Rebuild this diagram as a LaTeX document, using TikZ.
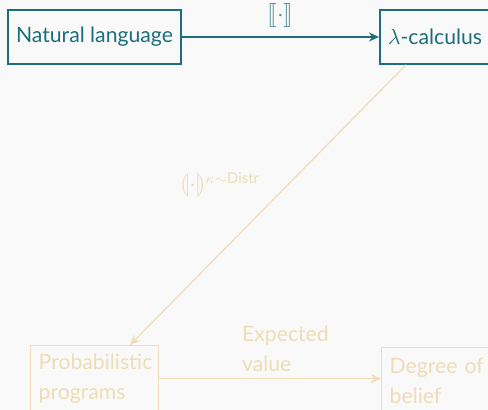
\documentclass[tikz,border=0pt]{standalone}
\usepackage{amsmath,stmaryrd}
\usepackage{fontspec}
\setmainfont{Lato}
\usepackage{tikz}
\usetikzlibrary{arrows.meta}

\definecolor{deepteal}{HTML}{1D6E7D}
\definecolor{paleocre}{HTML}{EEDDB5}
\definecolor{slide}{HTML}{F9F9F9}

\begin{document}
\begin{tikzpicture}[x=0.5pt,y=-0.5pt,
    font=\fontsize{10.6}{15}\selectfont,
    stage/.style={draw,line width=0.8pt,rectangle,inner xsep=4pt,inner ysep=3pt},
    done/.style={stage,deepteal,text=deepteal},
    todo/.style={stage,paleocre,line width=0.7pt,text=paleocre},
    go/.style={-{Stealth[length=5pt,width=4.5pt]},line width=0.9pt}]
  % Slide background and frame
  \fill[slide] (0,0) rectangle (488,410);
  \clip (0,0) rectangle (488,410);
  % Top row: syntax to logical form
  \node[done,minimum width=86.5pt,minimum height=27pt] (nl) at (94.5,37) {Natural language};
  \node[done,anchor=west,text width=54pt,align=left,minimum height=27pt] (lam) at (379,37) {$\lambda$-calculus};
  \draw[go,deepteal] (nl) -- (lam) node[midway,above=1pt,text=deepteal!75,font=\large]{$\llbracket\cdot\rrbracket$};
  % Bottom row: still faded
  \node[todo,anchor=north west,text width=56pt,align=left,minimum height=33pt] (prob) at (30,345) {Probabilistic\\programs};
  \node[todo,anchor=north west,text width=54pt,align=left,minimum height=33pt] (deg) at (381,347) {Degree of\\belief};
  % Translation into programs
  \draw[go,paleocre,line width=0.6pt] ([xshift=13.5pt]lam.south west) -- ([xshift=50pt]prob.north west)
    node[pos=0.43,left=10pt,text=paleocre]{\mbox{\large$\llparenthesis\cdot\rrparenthesis$}$^{\kappa\sim\text{Distr}}$};
  % Evaluation
  \draw[go,paleocre,line width=0.7pt] (prob.east) -- (prob.east -| deg.west)
    node[pos=0.34,anchor=south west,align=left,text=paleocre]{Expected\\value};
\end{tikzpicture}
\end{document}
